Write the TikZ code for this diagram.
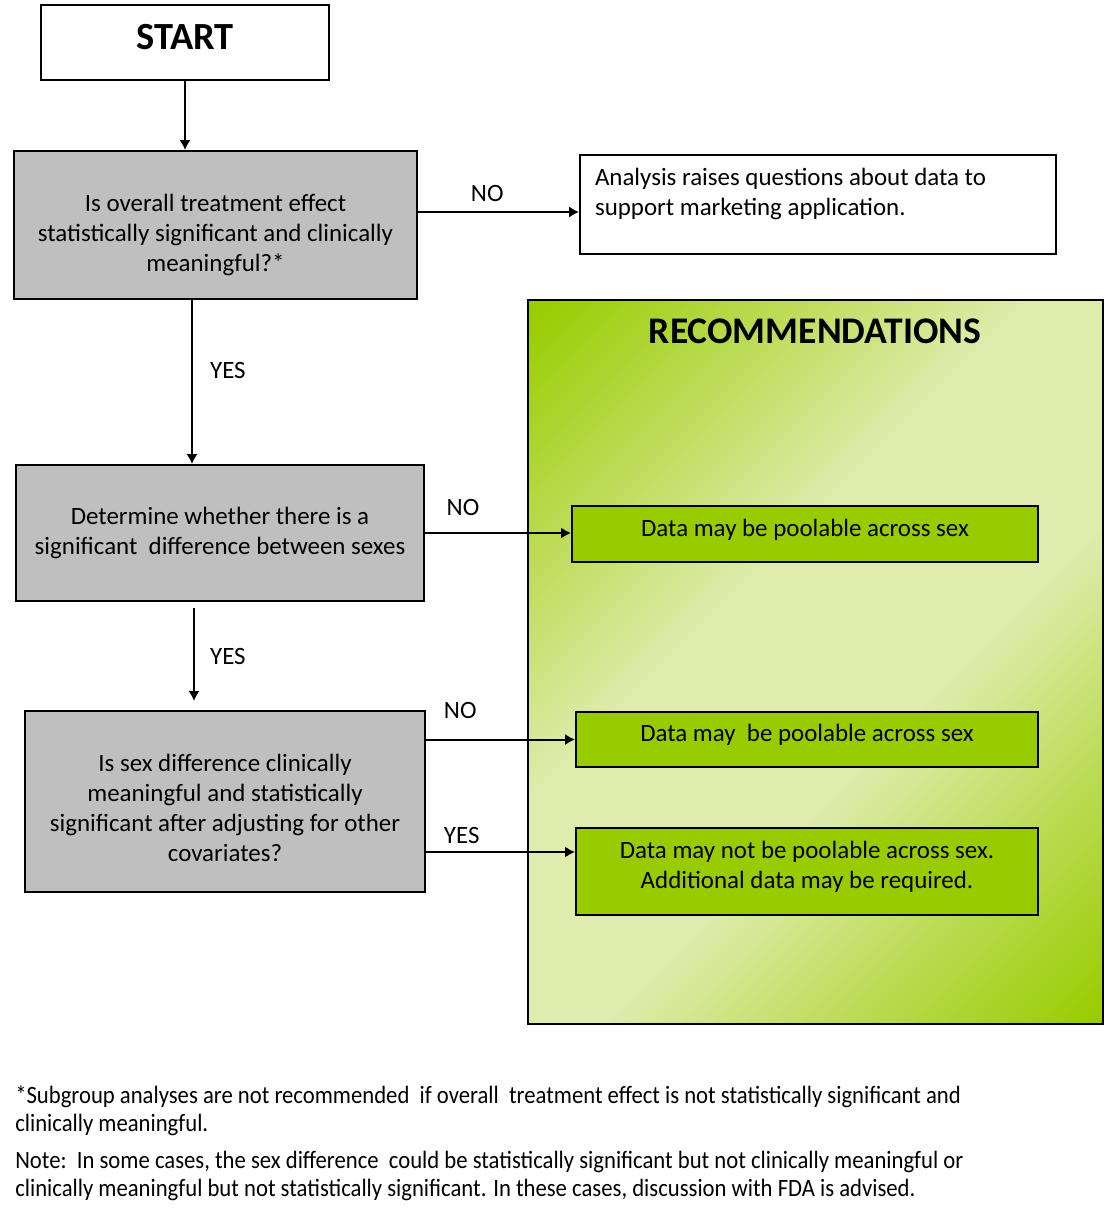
\documentclass[tikz,border=0pt]{standalone}
\usepackage{fontspec}
\setmainfont{Carlito}
\newfontfamily\notefont[FakeStretch=0.91]{Carlito}
\usetikzlibrary{arrows.meta, calc, positioning}
\definecolor{boxgrey}{HTML}{BFBFBF}
\definecolor{recgreen}{HTML}{99CC00}
\definecolor{recpale}{HTML}{DFECAE}
\pgfdeclareverticalshading{recshade}{100bp}{color(0bp)=(recgreen); color(15bp)=(recgreen); color(29bp)=(recgreen!50!recpale); color(42bp)=(recpale); color(58bp)=(recpale); color(71bp)=(recgreen!50!recpale); color(85bp)=(recgreen); color(100bp)=(recgreen)}

\begin{document}
\begin{tikzpicture}[x=0.75pt, y=-0.75pt,
  every node/.style={font=\fontsize{18.7}{22.5}\selectfont},
  greybox/.style={fill=boxgrey, draw, line width=1.5pt, align=flush center, text width=290pt},
  recbox/.style={fill=recgreen, draw, line width=1.5pt, align=flush center},
  arr/.style={-{Latex[length=7.5pt, width=8.5pt]}, line width=1.5pt}]
\useasboundingbox (0,0) rectangle (1104,1228);
\node[draw, line width=1.5pt, minimum width=216pt, minimum height=56.25pt, text depth=9pt, font=\fontsize{28.8}{30}\bfseries\selectfont] (Start) at (185,42.5) {START};
\node[greybox, minimum width=302.25pt, minimum height=111pt, text depth=33pt] (B1) at (215.5,225) {Is overall treatment effect\\statistically significant and clinically\\meaningful?*};
\node[draw, line width=1.5pt, minimum width=357pt, minimum height=74.25pt, text width=334.5pt, align=flush left, text depth=41pt] (An) at (818,204.5) {Analysis raises questions about data to\\support marketing application.};
\node[greybox, minimum width=306pt, minimum height=102pt] (B2) at (220,533) {Determine whether there is a\\significant\ \ difference between sexes};
\node[greybox, minimum width=300pt, minimum height=135.75pt, text depth=58.5pt] (B3) at (225,801.5) {Is sex difference clinically\\meaningful and statistically\\significant after adjusting for other\\covariates?};
\node[draw, line width=1.5pt, minimum width=431.25pt, minimum height=543pt, shading=recshade, shading angle=45] (Rec) at (815.5,662) {};
\node[font=\fontsize{28.2}{30}\bfseries\selectfont] (RecTitle) at (815,331) {RECOMMENDATIONS};
\node[recbox, minimum width=349.5pt, minimum height=42pt, text depth=9.6pt] (G1) at (805,534) {Data may be poolable across sex};
\node[recbox, minimum width=346.5pt, minimum height=41.25pt, text depth=9.6pt] (G2) at (807,739.5) {Data may\ \ be poolable across sex};
\node[recbox, minimum width=346.5pt, minimum height=65.25pt, text width=330pt, text depth=32.1pt] (G3) at (807,871.5) {Data may not be poolable across sex.\\Additional data may be required.};
\draw[arr] (Start.south) -- (Start.south |- B1.north);
\coordinate (n1) at ($(B1.east)+(0,-13)$);
\draw[arr] (n1) -- (n1 -| An.west) node[pos=0.43, above=3.6pt] (No1) {NO};
\coordinate (y1) at ($(B1.south)+(-23.5,0)$);
\draw[arr] (y1) -- (y1 |- B2.north) node[pos=0.43, right=9.5pt] (Yes1) {YES};
\draw[arr] (B2.east) -- (B2.east -| G1.west) node[pos=0.26, above=8.9pt] (No2) {NO};
\coordinate (y2) at ($(B2.south)+(-26,6)$);
\draw[arr, shorten >=6.75pt] (y2) -- (y2 |- B3.north) node[pos=0.48, right=8pt] (Yes2) {YES};
\draw[arr] (G2.west -| B3.east) -- (G2.west) node[pos=0.23, above=11.9pt] (No3) {NO};
\coordinate (y3) at ($(B3.east)+(0,50.5)$);
\draw[arr] (y3) -- (y3 -| G3.west) node[pos=0.24, above=2.1pt] (Yes3) {YES};
\node[anchor=north west, inner sep=0pt, align=left, font=\notefont\fontsize{18.7}{21}\selectfont] (Note1) at (15,1086) {*Subgroup analyses are not recommended\ \ if overall\ \ treatment effect is not statistically significant and\\clinically meaningful.};
\node[anchor=north west, inner sep=0pt, align=left, font=\notefont\fontsize{18.7}{21}\selectfont] (Note2) at (15,1151) {Note:\ \ In some cases, the sex difference\ \ could be statistically significant but not clinically meaningful or\\clinically meaningful but not statistically significant. In these cases, discussion with FDA is advised.};
\end{tikzpicture}
\end{document}
